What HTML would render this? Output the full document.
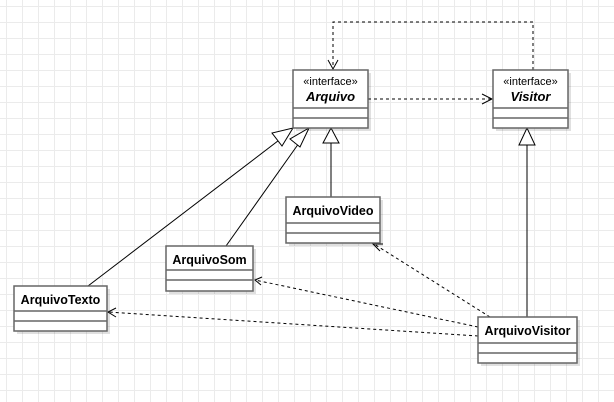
<!DOCTYPE html>
<html><head><meta charset="utf-8"><style>
html,body{margin:0;padding:0;background:#fff}
svg{display:block}
text{font-family:"Liberation Sans",Arial,sans-serif;fill:#000}
</style></head><body>
<svg width="614" height="402" viewBox="0 0 614 402" xmlns="http://www.w3.org/2000/svg">
<defs>
<pattern id="g" x="6" y="6" width="16" height="16" patternUnits="userSpaceOnUse">
<path d="M0 0H16M0 0V16" stroke="#ebebeb" stroke-width="2" fill="none"/>
</pattern>
</defs>
<rect width="614" height="402" fill="url(#g)"/>

<g fill="#000" opacity="0.12">
<rect x="296" y="73" width="75" height="58"/>
<rect x="496" y="73" width="75" height="58"/>
<rect x="289" y="200" width="94" height="46"/>
<rect x="169" y="249" width="87" height="45"/>
<rect x="17" y="289" width="93" height="45"/>
<rect x="481" y="320" width="99" height="46"/>
</g>

<g stroke="#000" fill="none" stroke-width="1">
<path d="M533 70V22H333V68" stroke-dasharray="3,3"/>
<path d="M328 60L333 69L338 60"/>
<path d="M368 99H491" stroke-dasharray="3,3"/>
<path d="M482 94L492 99L482 104"/>
<path d="M88 286L287 134"/>
<path d="M226 246L304 136"/>
<path d="M331 197V143"/>
<path d="M527 317V145"/>
<path d="M490 317L374 244" stroke-dasharray="3,3"/>
<path d="M380 251L373 244L383 244"/>
<path d="M478 327L255 280" stroke-dasharray="3,3"/>
<path d="M262 277L255 280L261 285"/>
<path d="M478 336L108 312" stroke-dasharray="3,3"/>
<path d="M116 308L108 312L116 317"/>
</g>
<g stroke="#000" fill="#fff" stroke-width="1">
<path d="M293 128L282 146L272 133Z"/>
<path d="M309 128L300 147L290 139Z"/>
<path d="M331 128L323 143L339 143Z"/>
<path d="M527 128L519 145L535 145Z"/>
</g>

<g stroke="#666" stroke-width="1.5" fill="#fff">
<rect x="293" y="70" width="75" height="58"/>
<path d="M293 108H368M293 118H368" fill="none"/>
<rect x="493" y="70" width="75" height="58"/>
<path d="M493 108H568M493 118H568" fill="none"/>
<rect x="286" y="197" width="94" height="46"/>
<path d="M286 223H380M286 233H380" fill="none"/>
<rect x="166" y="246" width="87" height="45"/>
<path d="M166 270H253M166 280H253" fill="none"/>
<rect x="14" y="286" width="93" height="45"/>
<path d="M14 311H107M14 321H107" fill="none"/>
<rect x="478" y="317" width="99" height="46"/>
<path d="M478 343H577M478 353H577" fill="none"/>
</g>

<g font-size="12.5">
<text x="330.5" y="85" text-anchor="middle" font-size="11">«interface»</text>
<text x="330.5" y="101" text-anchor="middle" font-weight="bold" font-style="italic" font-size="13">Arquivo</text>
<text x="530.5" y="85" text-anchor="middle" font-size="11">«interface»</text>
<text x="530.5" y="101" text-anchor="middle" font-weight="bold" font-style="italic" font-size="13">Visitor</text>
<text x="333" y="215" text-anchor="middle" font-weight="bold">ArquivoVideo</text>
<text x="209.5" y="264" text-anchor="middle" font-weight="bold">ArquivoSom</text>
<text x="60.5" y="304" text-anchor="middle" font-weight="bold">ArquivoTexto</text>
<text x="527.5" y="335" text-anchor="middle" font-weight="bold">ArquivoVisitor</text>
</g>
</svg>
</body></html>
